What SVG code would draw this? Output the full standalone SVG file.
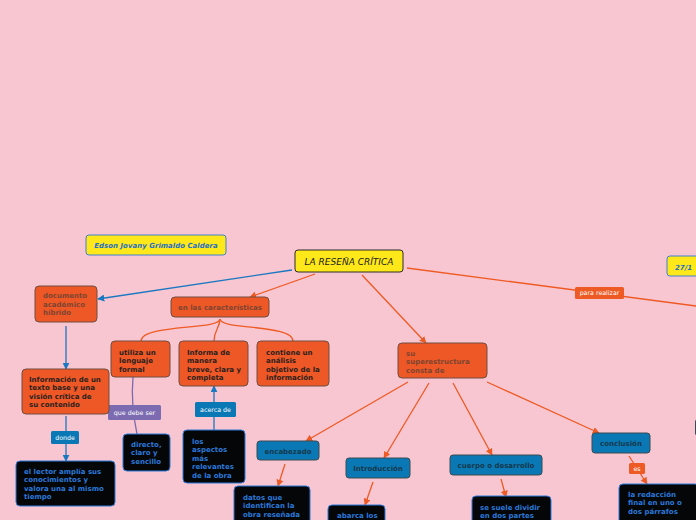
<svg xmlns="http://www.w3.org/2000/svg" width="696" height="520" viewBox="0 0 696 520">
<defs>
<marker id="ao" viewBox="0 0 10 10" refX="9" refY="5" markerWidth="7" markerHeight="7" markerUnits="userSpaceOnUse" orient="auto"><path d="M0,0 L10,5 L0,10 z" fill="#ee5a24"/></marker>
<marker id="ab" viewBox="0 0 10 10" refX="9" refY="5" markerWidth="7" markerHeight="7" markerUnits="userSpaceOnUse" orient="auto"><path d="M0,0 L10,5 L0,10 z" fill="#1a78c2"/></marker>
</defs>
<style>
text{font-family:"DejaVu Sans",Verdana,sans-serif;font-size:7px;font-weight:bold}
.or{fill:#ee5726;stroke:#6e4e40;stroke-width:1}
.bl{fill:#0a78b4;stroke:#3c4a52;stroke-width:1}
.bk{fill:#050608;stroke:#2a78d8;stroke-width:1}
.ye{fill:#ffe81a}
.tl{fill:#7d4531}
.td{fill:#2b2220}
.tb{fill:#2a78d8}
.tn{fill:#17394d;text-anchor:middle}
.lbl{font-weight:normal;font-size:6.3px;fill:#ffffff;text-anchor:middle}
.lo{fill:none;stroke:#ee5a24;stroke-width:1.3}
.lb{fill:none;stroke:#1a78c2;stroke-width:1.3}
.lp{fill:none;stroke:#7c6bb0;stroke-width:1.3}
</style>
<rect width="696" height="520" fill="#f8c6d1"/>
<g id="connectors">
<path class="lb" d="M292,270 L98,299" marker-end="url(#ab)"/>
<path class="lo" d="M315,274 L250,297" marker-end="url(#ao)"/>
<path class="lo" d="M362,275 L426,343" marker-end="url(#ao)"/>
<path class="lo" d="M407,268 L696,306"/>
<path class="lo" d="M220,319 C220,330 141,324 141,341"/>
<path class="lo" d="M220,319 C220,328 214,330 214,341"/>
<path class="lo" d="M220,319 C220,330 293,324 293,341"/>
<path class="lb" d="M66,326 L66,369" marker-end="url(#ab)"/>
<path class="lb" d="M66,416 L66,461" marker-end="url(#ab)"/>
<path class="lp" d="M133,377 C131,400 134,420 137,434"/>
<path class="lb" d="M214,430 L214,386" marker-end="url(#ab)"/>
<path class="lo" d="M408,382 L306,441" marker-end="url(#ao)"/>
<path class="lo" d="M429,383 L384,458" marker-end="url(#ao)"/>
<path class="lo" d="M453,383 L492,455" marker-end="url(#ao)"/>
<path class="lo" d="M487,382 L599,433" marker-end="url(#ao)"/>
<path class="lo" d="M285,464 L278,486" marker-end="url(#ao)"/>
<path class="lo" d="M373,482 L365,505" marker-end="url(#ao)"/>
<path class="lo" d="M501,479 L506,497" marker-end="url(#ao)"/>
<path class="lo" d="M629,456 L647,484" marker-end="url(#ao)"/>
<g id="lbl-para"><rect x="575" y="287" width="49" height="12" rx="1.5" fill="#ee5a24"/><text class="lbl" x="599.5" y="295.3">para realizar</text></g>
<g id="lbl-que"><rect x="108" y="405" width="53" height="15" rx="1.5" fill="#7c6bb0"/><text class="lbl" x="134.5" y="414.7">que debe ser</text></g>
<g id="lbl-donde"><rect x="51" y="431" width="28" height="13" rx="1.5" fill="#0a78b4"/><text class="lbl" x="65" y="439.8">donde</text></g>
<g id="lbl-acerca"><rect x="195" y="402" width="41" height="15" rx="1.5" fill="#0a78b4"/><text class="lbl" x="215.5" y="411.7">acerca de</text></g>
<g id="lbl-es"><rect x="629" y="463" width="16" height="11" rx="1.5" fill="#ee5a24"/><text class="lbl" x="637" y="470.8">es</text></g>
</g>
<g id="n-edson"><rect x="86" y="235" width="140" height="20" rx="3" class="ye" stroke="#3a82d4" stroke-width="1"/><text x="156" y="247.5" text-anchor="middle" font-style="italic" fill="#1f6fc4">Edson Jovany Grimaldo Caldera</text></g>
<g id="n-root"><rect x="295" y="250" width="108" height="22" rx="3" class="ye" stroke="#2a2a2a" stroke-width="1"/><text x="349" y="265.2" text-anchor="middle" font-style="italic" style="font-size:9px;font-weight:normal" fill="#1a1a1a">LA RESEÑA CRÍTICA</text></g>
<g id="n-date"><rect x="667" y="256" width="60" height="20" rx="3" class="ye" stroke="#3a82d4" stroke-width="1"/><text x="675" y="269.5" font-style="italic" fill="#1f6fc4">27/1</text></g>
<g id="n-documento"><rect x="35" y="286" width="62" height="36" rx="4" class="or"/><text class="tl"><tspan x="43" y="298">documento</tspan><tspan x="43" y="306.5">académico</tspan><tspan x="43" y="315">híbrido</tspan></text></g>
<g id="n-caract"><rect x="171" y="297" width="98" height="20" rx="4" class="or"/><text class="tl" x="220" y="310" text-anchor="middle">en las características</text></g>
<g id="n-utiliza"><rect x="111" y="341" width="59" height="36" rx="4" class="or"/><text class="td"><tspan x="119" y="354.5">utiliza un</tspan><tspan x="119" y="363">lenguaje</tspan><tspan x="119" y="371.5">formal</tspan></text></g>
<g id="n-informa"><rect x="179" y="341" width="69" height="45" rx="4" class="or"/><text class="td"><tspan x="187" y="354.5">Informa de</tspan><tspan x="187" y="363">manera</tspan><tspan x="187" y="371.5">breve, clara y</tspan><tspan x="187" y="380">completa</tspan></text></g>
<g id="n-contiene"><rect x="257" y="341" width="72" height="45" rx="4" class="or"/><text class="td"><tspan x="266" y="354.5">contiene un</tspan><tspan x="266" y="363">análisis</tspan><tspan x="266" y="371.5">objetivo de la</tspan><tspan x="266" y="380">información</tspan></text></g>
<g id="n-super"><rect x="398" y="343" width="89" height="35" rx="4" class="or"/><text class="tl"><tspan x="406" y="355.5">su</tspan><tspan x="406" y="364">superestructura</tspan><tspan x="406" y="372.5">consta de</tspan></text></g>
<g id="n-informacion"><rect x="22" y="369" width="87" height="45" rx="4" class="or"/><text class="td"><tspan x="29" y="381.5">Información de un</tspan><tspan x="29" y="390">texto base y una</tspan><tspan x="29" y="398.5">visión crítica de</tspan><tspan x="29" y="407">su contenido</tspan></text></g>
<g id="n-directo"><rect x="123" y="434" width="47" height="37" rx="4" class="bk"/><text class="tb"><tspan x="131" y="446.5">directo,</tspan><tspan x="131" y="455">claro y</tspan><tspan x="131" y="463.5">sencillo</tspan></text></g>
<g id="n-lector"><rect x="16" y="461" width="99" height="45" rx="4" class="bk"/><text class="tb"><tspan x="24" y="473.5">el lector amplía sus</tspan><tspan x="24" y="482">conocimientos y</tspan><tspan x="24" y="490.5">valora una al mismo</tspan><tspan x="24" y="499">tiempo</tspan></text></g>
<g id="n-aspectos"><rect x="183" y="430" width="62" height="53" rx="4" class="bk"/><text class="tb"><tspan x="192" y="443.5">los</tspan><tspan x="192" y="452">aspectos</tspan><tspan x="192" y="460.5">más</tspan><tspan x="192" y="469">relevantes</tspan><tspan x="192" y="477.5">de la obra</tspan></text></g>
<g id="n-encabezado"><rect x="257" y="441" width="62" height="19" rx="3" class="bl"/><text class="tn" x="288" y="453.5">encabezado</text></g>
<g id="n-datos"><rect x="234" y="486" width="76" height="50" rx="4" class="bk"/><text class="tb"><tspan x="243" y="499.5">datos que</tspan><tspan x="243" y="508">identifican la</tspan><tspan x="243" y="516.5">obra reseñada</tspan></text></g>
<g id="n-intro"><rect x="346" y="458" width="64" height="20" rx="3" class="bl"/><text class="tn" x="378" y="470.5">Introducción</text></g>
<g id="n-abarca"><rect x="328" y="505" width="57" height="30" rx="4" class="bk"/><text class="tb" x="337" y="518.3">abarca los</text></g>
<g id="n-cuerpo"><rect x="450" y="455" width="92" height="20" rx="3" class="bl"/><text class="tn" x="496" y="467.5">cuerpo o desarrollo</text></g>
<g id="n-suele"><rect x="472" y="496" width="79" height="40" rx="4" class="bk"/><text class="tb"><tspan x="480" y="509.5">se suele dividir</tspan><tspan x="480" y="518">en dos partes</tspan></text></g>
<g id="n-conclusion"><rect x="592" y="433" width="58" height="20" rx="3" class="bl"/><text class="tn" x="621" y="445.5">conclusión</text></g>
<g id="n-redaccion"><rect x="619" y="484" width="80" height="45" rx="4" class="bk"/><text class="tb"><tspan x="628" y="496.5">la redacción</tspan><tspan x="628" y="505">final en uno o</tspan><tspan x="628" y="513.5">dos párrafos</tspan></text></g>
<g id="n-edge"><rect x="695.5" y="419" width="50" height="17" rx="3" class="bl"/></g>
</svg>
